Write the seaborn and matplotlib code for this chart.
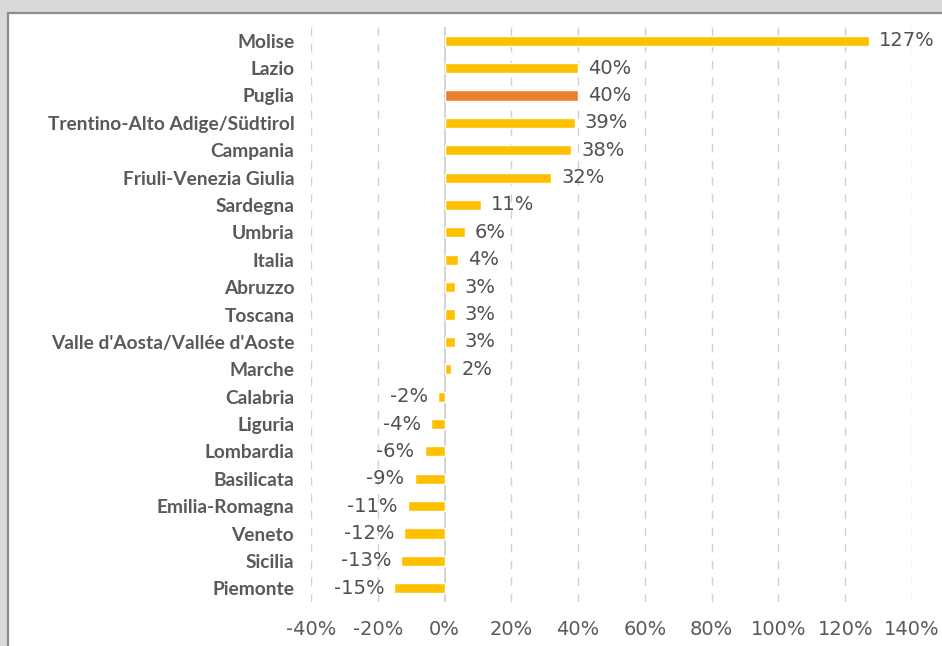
import matplotlib
matplotlib.use("Agg")
import matplotlib.pyplot as plt
from matplotlib.patches import Rectangle
import seaborn as sns
import pandas as pd

regions = [
    "Molise", "Lazio", "Puglia", "Trentino-Alto Adige/Südtirol", "Campania",
    "Friuli-Venezia Giulia", "Sardegna", "Umbria", "Italia", "Abruzzo",
    "Toscana", "Valle d'Aosta/Vallée d'Aoste", "Marche", "Calabria", "Liguria",
    "Lombardia", "Basilicata", "Emilia-Romagna", "Veneto", "Sicilia", "Piemonte",
]
change_pct = [127, 40, 40, 39, 38, 32, 11, 6, 4, 3, 3, 3, 2,
              -2, -4, -6, -9, -11, -12, -13, -15]
highlight = "Puglia"
x_ticks = [-40, -20, 0, 20, 40, 60, 80, 100, 120, 140]

df = pd.DataFrame({"regione": regions, "variazione": change_pct})
df["gruppo"] = ["evidenza" if r == highlight else "altre" for r in regions]

sns.set_theme(style="white")
plt.rcParams["font.family"] = ["DejaVu Sans"]

text_color = "#595959"
fig = plt.figure(figsize=(9.42, 6.46), dpi=100, facecolor="#d9d9d9")

# white chart panel with grey frame
W, H = 942, 646
panel = Rectangle((8 / W, -0.1), 1.0, 1.1 - 13 / H, transform=fig.transFigure,
                  facecolor="white", edgecolor="#8c8c8c", linewidth=1.6,
                  zorder=-5)
fig.patches.append(panel)

ax = fig.add_axes([311 / W, 1 - 602 / H, (912 - 311) / W, (602 - 27) / H])
ax.set_facecolor("none")
ax.set_zorder(2)

sns.barplot(data=df, x="variazione", y="regione", hue="gruppo",
            palette={"altre": "#FFC000", "evidenza": "#ED7D31"},
            orient="h", width=0.37, dodge=False, legend=False, ax=ax,
            saturation=1, zorder=3)

ax.set_xlim(-40, 140)
ax.set_ylim(len(regions) - 0.5, -0.5)
ax.set_xticks(x_ticks)
ax.set_xticklabels([f"{t}%" for t in x_ticks], fontsize=14,
                   color=text_color)
ax.set_yticks(range(len(regions)))
ax.set_yticklabels(regions, fontsize=13.8, fontweight="bold",
                   family=["Lato", "DejaVu Sans"], color=text_color)
ax.tick_params(axis="x", length=0, pad=13)
ax.tick_params(axis="y", length=0, pad=12)
ax.set_xlabel("")
ax.set_ylabel("")
for s in ax.spines.values():
    s.set_visible(False)

for t in x_ticks:
    if t == 0:
        ax.axvline(0, color="#d0d0d0", lw=1.3, zorder=2)
    else:
        ax.axvline(t, color="#d0d0d0", lw=1.0, ls=(0, (6, 6)), zorder=1)

for i, v in enumerate(change_pct):
    if v >= 0:
        ax.text(v + 3, i, f"{v}%", va="center", ha="left", fontsize=14,
                color="#505050")
    else:
        ax.text(v - 3, i, f"{v}%", va="center", ha="right", fontsize=14,
                color="#505050")

fig.savefig("out.png", dpi=100, facecolor=fig.get_facecolor())
